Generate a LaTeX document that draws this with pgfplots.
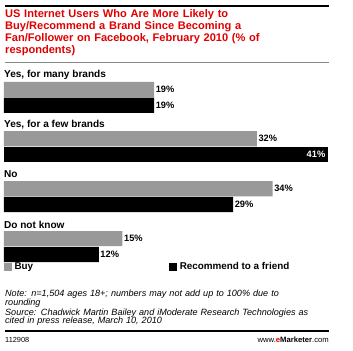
\documentclass[border=0pt]{standalone}
\usepackage{pgfplots}
\pgfplotsset{compat=1.18}
\usepackage{fontspec}
\setmainfont{Liberation Sans}
\definecolor{emred}{RGB}{224,0,0}
\definecolor{bargray}{RGB}{153,153,153}
\definecolor{linegray}{RGB}{136,136,136}
\begin{document}
\begin{tikzpicture}[x=1bp,y=-1bp]
\path[use as bounding box] (0,0) rectangle (353,351);
% top rule
\draw[line width=2.2bp] (5,6) -- (329,6);
\node[anchor=north west, inner sep=0pt, text width=340bp, align=left, text=emred, font=\fontsize{11.1}{12}\selectfont\bfseries] at (5,9.2)
{US Internet Users Who Are More Likely to\\Buy/Recommend a Brand Since Becoming a\\Fan/Follower on Facebook, February 2010 (\% of\\respondents)};
\draw[linegray, line width=1bp] (5,62) -- (329,62);
\begin{axis}[
  at={(5,0)}, anchor=north west,
  scale only axis, width=324bp, height=351bp,
  xmin=0, xmax=41, ymin=0, ymax=351, y dir=reverse,
  enlargelimits=false, hide axis, clip=false,
  xbar, bar width=15.2bp, bar shift=0pt,
  /pgf/number format/assume math mode=true,
  nodes near coords={\pgfmathprintnumber{\pgfplotspointmeta}\%},
  point meta=x,
  every node near coord/.append style={font=\fontsize{9.3}{10}\selectfont\bfseries, inner sep=1.5bp, text=black},
  legend columns=2,
  legend style={at={(axis cs:0,267)}, anchor=west, draw=none, fill=none, inner sep=0pt, outer sep=0pt,
    font=\fontsize{9.9}{11}\selectfont\bfseries,
    /tikz/every even column/.append style={column sep=134bp},
    /tikz/every odd column/.append style={column sep=1bp}},
  legend cell align=left,
  legend image code/.code={\fill[#1] (0bp,-3.8bp) rectangle (7.6bp,3.8bp);},
]
\addplot[fill=bargray, draw=none] coordinates {(19,89.5) (32,138.8) (34,188.7) (15,238.6)};
\addlegendentry{Buy}
\addplot[fill=black, draw=none] coordinates {(19,105.3) (29,204.5) (12,254.4)};
\addlegendentry{Recommend to a friend}
\addplot[fill=black, draw=none, forget plot,
  nodes near coords={\color{white}\pgfmathprintnumber{\pgfplotspointmeta}\%},
  every node near coord/.append style={anchor=east, text=white, inner sep=2.5bp}] coordinates {(41,154.6)};
\node[anchor=west, inner sep=0pt, font=\fontsize{10.1}{11}\selectfont\bfseries] at (axis cs:0,75) {Yes, for many brands};
\node[anchor=west, inner sep=0pt, font=\fontsize{10.1}{11}\selectfont\bfseries] at (axis cs:0,124.5) {Yes, for a few brands};
\node[anchor=west, inner sep=0pt, font=\fontsize{10.1}{11}\selectfont\bfseries] at (axis cs:0,174) {No};
\node[anchor=west, inner sep=0pt, font=\fontsize{10.1}{11}\selectfont\bfseries] at (axis cs:0,224.5) {Do not know};
\end{axis}
\node[anchor=north west, inner sep=0pt, text width=345bp, align=left, font=\fontsize{9.1}{8.7}\selectfont\itshape] at (5,290)
{Note: n=1,504 ages 18+; numbers may not add up to 100\% due to\\rounding\\[1bp]Source: Chadwick Martin Bailey and iModerate Research Technologies as\\cited in press release, March 10, 2010};
\draw[line width=1.4bp] (5,331) -- (329,331);
\node[anchor=west, inner sep=0pt, font=\fontsize{7.4}{8}\selectfont] at (5,339.5) {112908};
\node[anchor=east, inner sep=0pt, font=\fontsize{7.7}{8}\selectfont] at (329,339.5) {www.{\bfseries\textcolor{emred}{e}Marketer}.com};
\end{tikzpicture}
\end{document}
